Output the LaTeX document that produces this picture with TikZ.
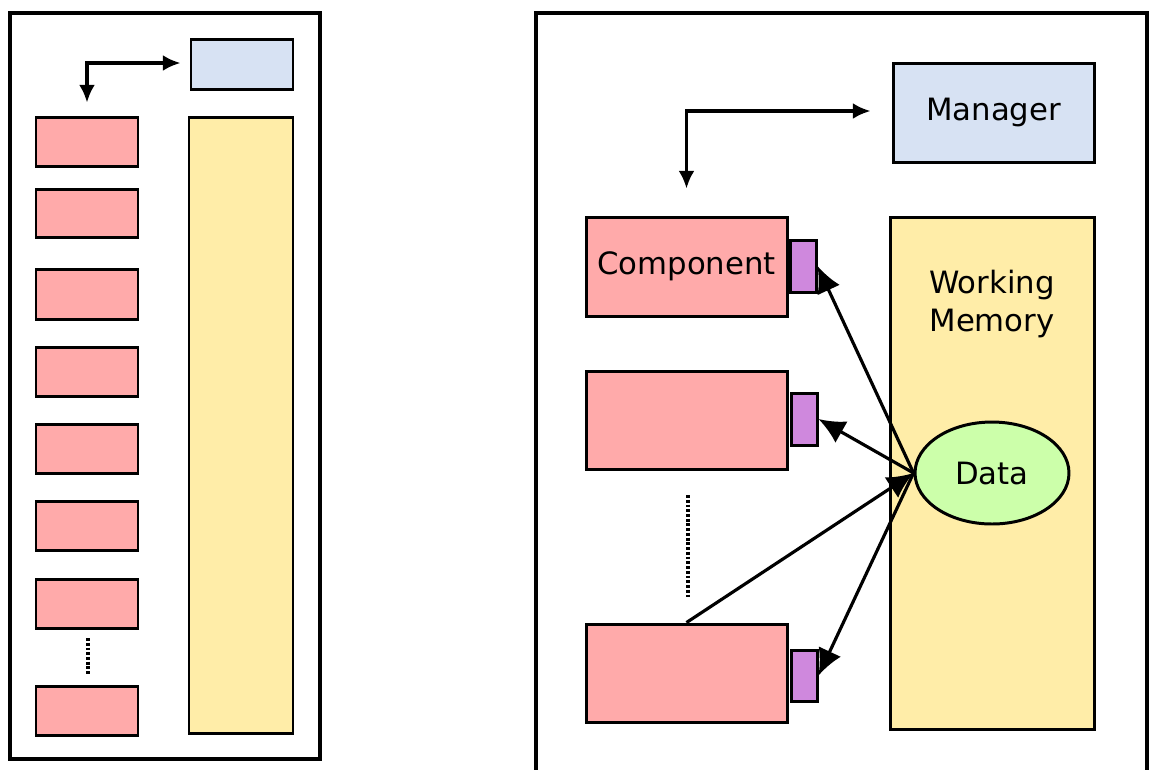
\documentclass[tikz,border=0pt]{standalone}
\usepackage{fontspec}
\setmainfont{DejaVu Sans}
\usetikzlibrary{arrows.meta,shapes.geometric,fit}

\definecolor{compfill}{HTML}{FFAAAA}
\definecolor{mgrfill}{HTML}{D7E2F3}
\definecolor{memfill}{HTML}{FFEDA8}
\definecolor{portfill}{HTML}{CF88DD}
\definecolor{datafill}{HTML}{CCFFAA}

\begin{document}
\begin{tikzpicture}[x=0.02cm,y=-0.02cm,
  panel/.style={line width=1.8pt},
  boxbase/.style={draw=black, line width=1.7pt, inner sep=0pt,
                  font=\fontsize{17.5}{21.5}\selectfont, align=center},
  compbox/.style={boxbase, fill=compfill},
  mgrbox/.style={boxbase, fill=mgrfill},
  membox/.style={boxbase, fill=memfill},
  portbox/.style={boxbase, fill=portfill},
  databox/.style={boxbase, ellipse, fill=datafill,
                  minimum width=3.08cm, minimum height=2.04cm},
  elbow/.style={line width=1.8pt, {Latex[length=10pt,width=9pt]}-{Latex[length=10pt,width=9pt]}},
  flow/.style={line width=1.8pt, -{Latex[length=15pt,width=14pt]}},
  gap/.style={line width=2pt, dash pattern=on 1.6pt off 1.1pt},
  lbl/.style={font=\fontsize{17.5}{21.5}\selectfont, align=center}]

\useasboundingbox (0,0) rectangle (1149,769);

% ---- overview panel ----
\draw[panel] (10,13) rectangle (320,759);
\node[mgrbox, fit={(191,39) (293,89)}] (lmgr) {};
\node[membox, fit={(189,117) (293,733)}] (lmem) {};
\node[compbox, fit={(36,117) (138,166)}] (l1) {};
\node[compbox, fit={(36,189) (138,237)}] (l2) {};
\node[compbox, fit={(36,269) (138,319)}] (l3) {};
\node[compbox, fit={(36,347) (138,396)}] (l4) {};
\node[compbox, fit={(36,424) (138,473)}] (l5) {};
\node[compbox, fit={(36,501) (138,550)}] (l6) {};
\node[compbox, fit={(36,579) (138,628)}] (l7) {};
\node[compbox, fit={(36,686) (138,735)}] (l8) {};
\coordinate (lmgrin) at ([xshift=-9*0.02cm]lmgr.west |- 0,63);
\coordinate (l1in) at ([yshift=13*0.02cm]l1.north);
\draw[elbow] (l1in) |- (lmgrin);
\coordinate (lgapa) at (88,638);
\coordinate (lgapb) at (88,675);
\draw[gap] (lgapa) -- (lgapb);

% ---- detailed panel ----
\draw[panel] (536,790) -- (536,13) -- (1147,13) -- (1147,790);
\node[mgrbox, fit={(893,63) (1094,162)}, label={[lbl]center:Manager}] (mgr) {};
\node[membox, fit={(890,217) (1094,729)}] (mem) {};
\node[lbl] (memlabel) at (992,304) {Working\\Memory};
\node[databox] (data) at (992,473) {Data};

\node[compbox, fit={(586,217) (787,316)}, label={[lbl]center:Component}] (c1) {};
\node[compbox, fit={(586,371) (787,469)}] (c2) {};
\node[compbox, fit={(586,624) (787,722)}] (c3) {};
\node[portbox, fit={(790,240) (816,292)}] (p1) {};
\node[portbox, fit={(791,393) (817,445)}] (p2) {};
\node[portbox, fit={(791,650) (817,701)}] (p3) {};

\coordinate (mgrin) at ([xshift=-21*0.02cm]mgr.west |- 0,111);
\coordinate (c1in) at ([yshift=27*0.02cm]c1.north);
\draw[elbow] (c1in) |- (mgrin);

\coordinate (gapa) at (688,495);
\coordinate (gapb) at (688,598);
\draw[gap] (gapa) -- (gapb);

\draw[flow] (data.west) -- (p1.east);
\draw[flow] (data.west) -- (p2.east);
\draw[flow] (c3.north) -- (data.west);
\draw[flow] (data.west) -- (p3.east);
\end{tikzpicture}
\end{document}
